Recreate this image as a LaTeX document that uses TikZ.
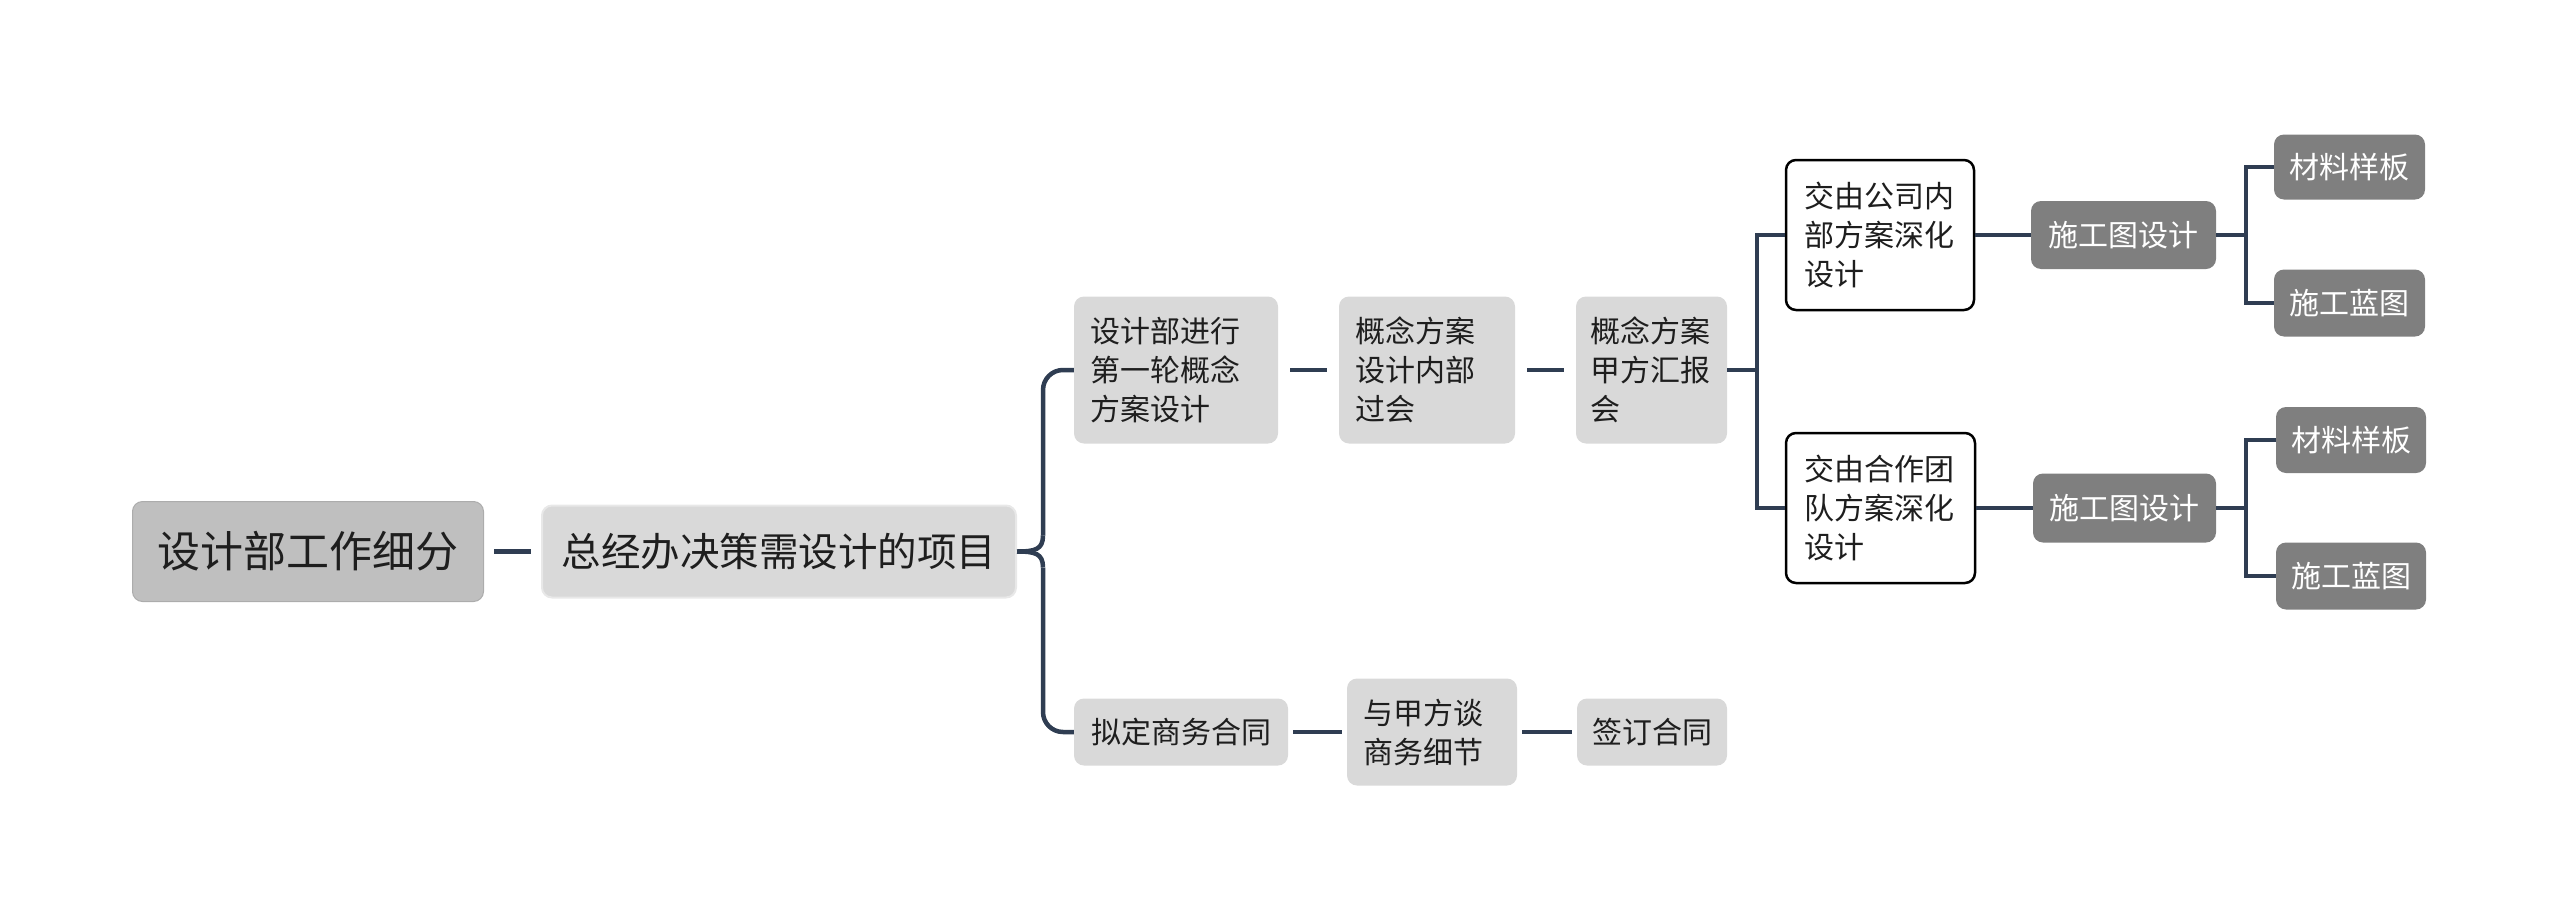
\documentclass[tikz,border=0pt]{standalone}
\usepackage{fontspec}
\setmainfont{Noto Sans CJK SC}
\usetikzlibrary{calc}
\definecolor{conn}{HTML}{2F3D52}
\definecolor{rootfill}{HTML}{BFBFBF}
\definecolor{lightfill}{HTML}{D9D9D9}
\definecolor{darkfill}{HTML}{7F7F7F}
\definecolor{txt}{HTML}{1E1E1E}
\tikzset{
  base/.style={rounded corners=10pt, inner ysep=0pt, text=txt},
  rootbox/.style={base, fill=rootfill, draw=rootfill!90!black, line width=1pt, minimum width=351pt, minimum height=100pt, font=\fontsize{43}{50}\selectfont},
  mainbox/.style={base, fill=lightfill, draw=lightfill!60!white, line width=2pt, minimum width=474pt, minimum height=92pt, font=\fontsize{39.5}{46}\selectfont},
  lightbox/.style={base, fill=lightfill, font=\fontsize{30}{39}\selectfont},
  whitebox/.style={base, fill=white, draw=black, line width=2.5pt, font=\fontsize{30}{39}\selectfont},
  darkbox/.style={base, fill=darkfill, text=white, font=\fontsize{30}{39}\selectfont},
  multi/.style={text width=#1, align=left},
  link/.style={draw=conn, line width=4.5pt},
}
\begin{document}
\begin{tikzpicture}[x=1pt,y=-1pt]
\useasboundingbox (0,0) rectangle (2560,919);
% nodes
\node[rootbox] (root) at (308,551.5) {设计部工作细分};
\node[mainbox] (main) at (779,551.5) {总经办决策需设计的项目};
\node[lightbox, multi=172pt, inner xsep=16pt, minimum height=147pt] (a) at (1176,370) {设计部进行\\第一轮概念\\方案设计};
\node[lightbox, multi=144pt, inner xsep=16pt, minimum height=147pt] (b) at (1427,370) {概念方案\\设计内部\\过会};
\node[lightbox, multi=122pt, inner xsep=14.5pt, minimum height=147pt] (c) at (1651.5,370) {概念方案\\甲方汇报\\会};
\node[lightbox, minimum width=214pt, minimum height=67pt] (d) at (1181,732) {拟定商务合同};
\node[lightbox, multi=138pt, inner xsep=16pt, minimum height=107pt] (e) at (1432,732) {与甲方谈\\商务细节};
\node[lightbox, minimum width=150pt, minimum height=67pt] (f) at (1652,732) {签订合同};
\node[whitebox, multi=152pt, inner xsep=18pt, minimum height=150pt] (g) at (1880,235) {交由公司内\\部方案深化\\设计};
\node[whitebox, multi=152pt, inner xsep=18.5pt, minimum height=150pt] (h) at (1880.5,508) {交由合作团\\队方案深化\\设计};
\node[darkbox, minimum width=185pt, minimum height=68pt] (i) at (2123.5,235) {施工图设计};
\node[darkbox, minimum width=183pt, minimum height=69pt] (j) at (2124.5,508) {施工图设计};
\node[darkbox, minimum width=151pt, minimum height=65pt] (k) at (2349.5,167) {材料样板};
\node[darkbox, minimum width=151pt, minimum height=67pt] (l) at (2349.5,303) {施工蓝图};
\node[darkbox, minimum width=150pt, minimum height=66pt] (m) at (2351,440) {材料样板};
\node[darkbox, minimum width=150pt, minimum height=67pt] (n) at (2351,576) {施工蓝图};
% connectors
\draw[link, shorten <=10pt, shorten >=10pt] (root.east) -- (main.west);
\coordinate (bx) at ($(main.east)+(26,0)$);
\draw[link] (main.east) .. controls ($(main.east)+(18,0)$) and ($(bx)+(0,-2)$) .. ($(bx)+(0,-16)$);
\draw[link] (main.east) .. controls ($(main.east)+(18,0)$) and ($(bx)+(0,2)$) .. ($(bx)+(0,16)$);
\draw[link, rounded corners=20pt] ($(bx)+(0,-16)$) |- (a.west);
\draw[link, rounded corners=20pt] ($(bx)+(0,16)$) |- (d.west);
\draw[link, shorten <=12pt, shorten >=12pt] (a.east) -- (b.west);
\draw[link, shorten <=12pt, shorten >=12pt] (b.east) -- (c.west);
\draw[link, shorten <=5pt, shorten >=5pt] (d.east) -- (e.west);
\draw[link, shorten <=5pt, shorten >=5pt] (e.east) -- (f.west);
\draw[link] (c.east) -- ++(30,0) coordinate (j1);
\draw[link] (g.west) -| (j1) |- (h.west);
\draw[link] (g.east) -- (i.west);
\draw[link] (h.east) -- (j.west);
\draw[link] (i.east) -- ++(30,0) coordinate (j2);
\draw[link] (k.west) -| (j2) |- (l.west);
\draw[link] (j.east) -- ++(30,0) coordinate (j3);
\draw[link] (m.west) -| (j3) |- (n.west);
\end{tikzpicture}
\end{document}
